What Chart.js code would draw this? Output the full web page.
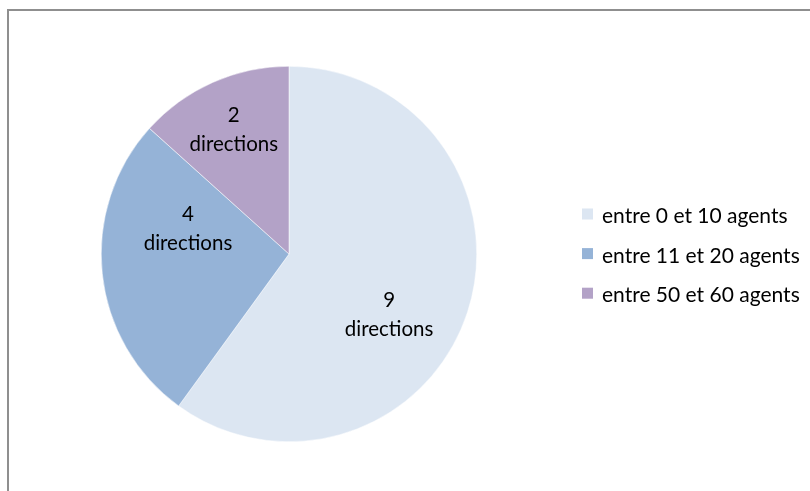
<!DOCTYPE html>
<html>
<head>
<meta charset="utf-8">
<script src="https://cdn.jsdelivr.net/npm/chart.js@4/dist/chart.umd.min.js"></script>
<style>
  html, body { margin: 0; padding: 0; background: #fff; }
  #wrap { position: relative; width: 810px; height: 491px; overflow: hidden; }
  #frame { position: absolute; left: 7px; top: 9px; width: 900px; height: 600px; border: 2px solid #8f8f8f; box-sizing: border-box; }
  canvas { position: absolute; left: 0; top: 0; }
</style>
</head>
<body>
<div id="wrap">
  <div id="frame"></div>
  <canvas id="pieChart" width="810" height="491"></canvas>
</div>
<script>
// effectifs par direction
const categories = ["entre 0 et 10 agents", "entre 11 et 20 agents", "entre 50 et 60 agents"];
const directions = [9, 4, 2];
const sliceColors = ["#dce6f2", "#95b3d7", "#b3a2c7"];

const FONT = "Lato, 'Open Sans', sans-serif";

// libellés "n directions" dans chaque part (position relative au rayon)
const labelOffsets = [[0.533, 0.362], [-0.538, -0.0965], [-0.294, -0.628]];
const sliceLabels = {
    id: "sliceLabels",
    afterDatasetsDraw(chart) {
        const ctx = chart.ctx;
        const meta = chart.getDatasetMeta(0);
        ctx.save();
        ctx.fillStyle = "#000";
        ctx.font = "20.5px " + FONT;
        ctx.textAlign = "center";
        ctx.textBaseline = "alphabetic";
        meta.data.forEach((arc, i) => {
            const r = arc.outerRadius;
            const x = arc.x + labelOffsets[i][0] * r;
            const y = arc.y + labelOffsets[i][1] * r;
            ctx.fillText(String(directions[i]), x, y - 14.5);
            ctx.fillText("directions", x, y + 14.5);
        });
        ctx.restore();
    }
};

// légende à droite
const sideLegend = {
    id: "sideLegend",
    afterDraw(chart) {
        const ctx = chart.ctx;
        ctx.save();
        ctx.font = "21px " + FONT;
        ctx.textBaseline = "alphabetic";
        categories.forEach((c, i) => {
            const y = 214 + i * 39.6;
            ctx.fillStyle = sliceColors[i];
            ctx.fillRect(582, y - 5.5, 11, 11);
            ctx.fillStyle = "#000";
            ctx.fillText(c, 602, y + 9);
        });
        ctx.restore();
    }
};

new Chart(document.getElementById("pieChart").getContext("2d"), {
    type: "pie",
    data: {
        labels: categories,
        datasets: [{
            data: directions,
            backgroundColor: sliceColors,
            borderWidth: 0.5,
            borderColor: "#ffffff"
        }]
    },
    options: {
        responsive: false,
        animation: false,
        layout: { padding: { left: 101, right: 333, top: 66, bottom: 49 } },
        plugins: {
            legend: { display: false },
            tooltip: { enabled: false }
        }
    },
    plugins: [sliceLabels, sideLegend]
});
</script>
</body>
</html>
